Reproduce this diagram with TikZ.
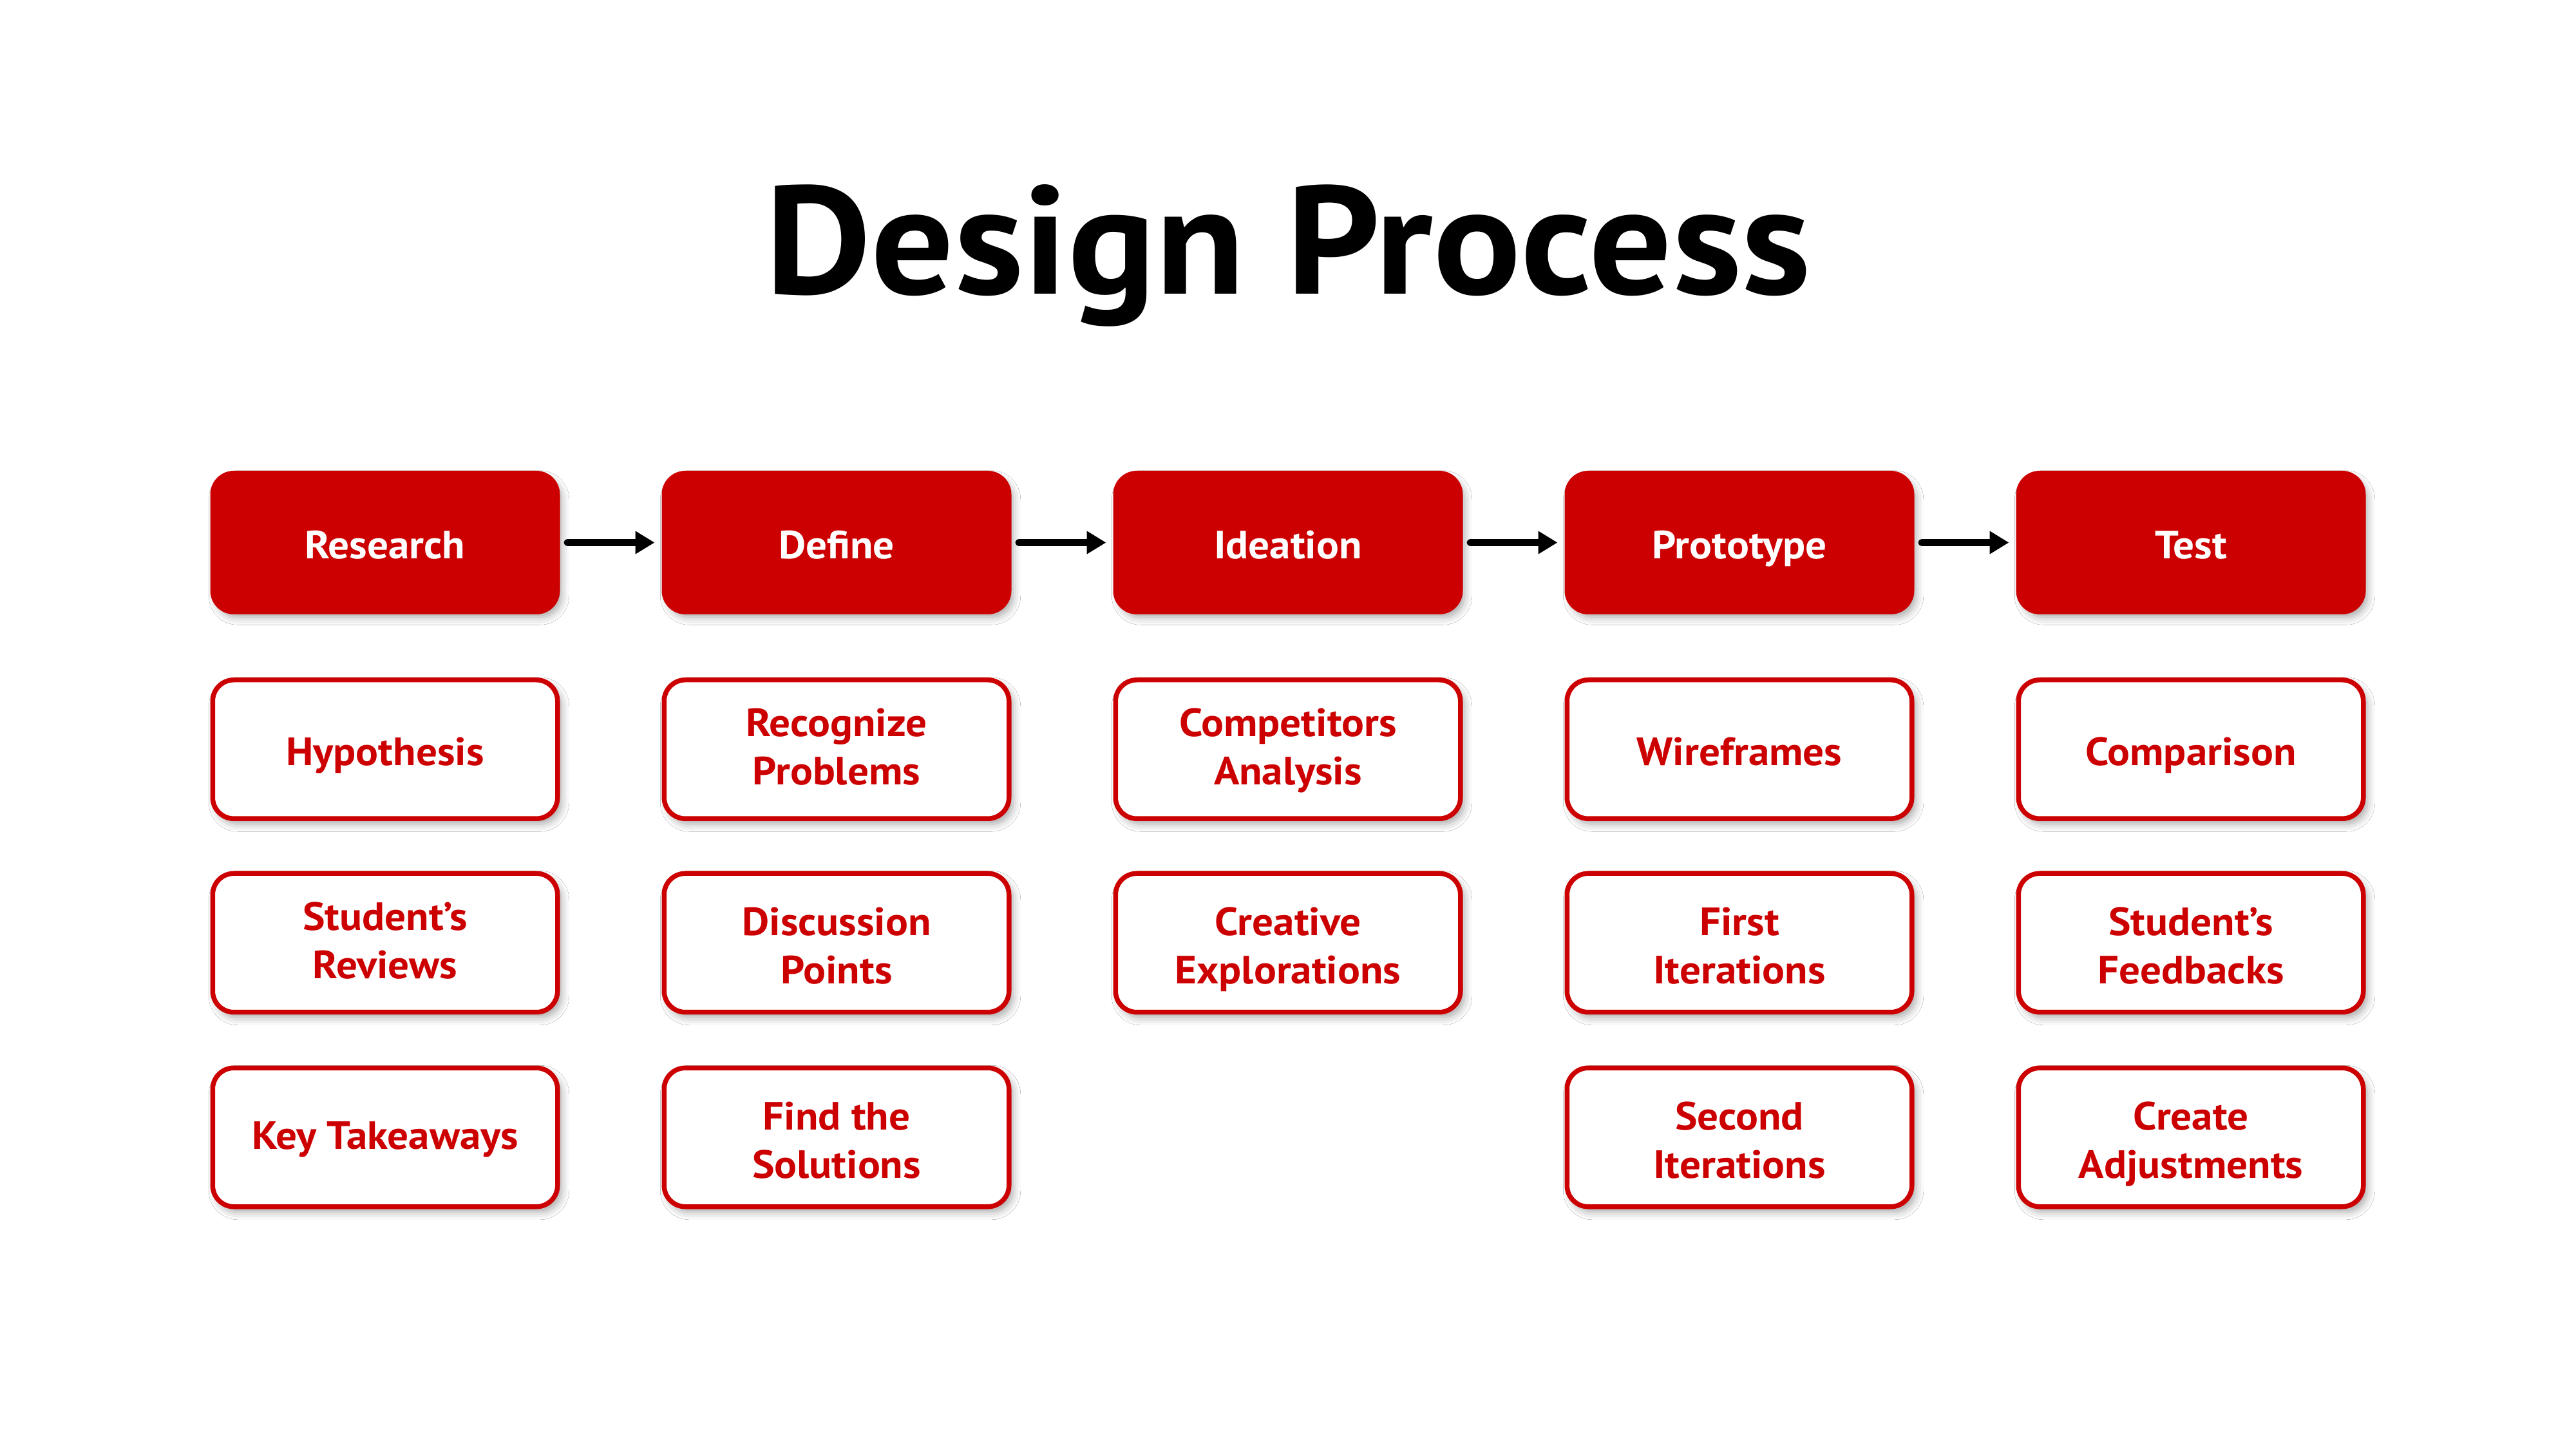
\documentclass[tikz,border=0pt]{standalone}
\usepackage{fontspec}
\setmainfont{PT Sans}[FakeStretch=1.065]
\usetikzlibrary{arrows.meta,shadows.blur}
\definecolor{dred}{RGB}{204,0,0}
\tikzset{
 boxbase/.style={rounded corners=0.33cm, minimum width=5.355cm, minimum height=2.155cm,
   line width=0.075cm, draw=dred, align=center,
   font=\bfseries\fontsize{17.4}{21.3}\selectfont,
   blur shadow={shadow xshift=0.06cm, shadow yshift=-0.08cm, shadow blur radius=0.12cm, shadow opacity=35}},
 headbox/.style={boxbase, fill=dred, text=white, text height=14.5pt, text depth=0pt},
 itembox/.style={boxbase, fill=white, text=dred, text height=14.5pt, text depth=0pt},
 onelinelow/.style={text height=10.4pt, text depth=0pt},
 twoline/.style={text height=35.9pt, text depth=0pt},
 twolineup/.style={text height=31.5pt, text depth=0pt},
 flow/.style={line width=0.11cm, line cap=round, -{Triangle[length=0.3cm,width=0.34cm]},
   shorten <=0.115cm, shorten >=0.11cm}
}
\begin{document}
\begin{tikzpicture}
\useasboundingbox[fill=white] (0,0) rectangle (40,-22.5);
\node[font=\bfseries\fontsize{68}{80}\selectfont, anchor=base] (title) at (20,-4.57) {Design Process};
% headers
\node[headbox] (research) at (5.98,-8.425) {Research};
\node[headbox] (define) at (12.99,-8.425) {Define};
\node[headbox] (ideation) at (20.00,-8.425) {Ideation};
\node[headbox] (prototype) at (27.01,-8.425) {Prototype};
\node[headbox] (test) at (34.02,-8.425) {Test};
% row 1
\node[itembox] (hyp) at (5.98,-11.635) {Hypothesis};
\node[itembox, twolineup] (recog) at (12.99,-11.635) {Recognize\\Problems};
\node[itembox, twolineup] (comp) at (20.00,-11.635) {Competitors\\Analysis};
\node[itembox] (wire) at (27.01,-11.635) {Wireframes};
\node[itembox] (compar) at (34.02,-11.635) {Comparison};
% row 2
\node[itembox, twolineup] (reviews) at (5.98,-14.64) {Student’s\\Reviews};
\node[itembox, twoline] (disc) at (12.99,-14.64) {Discussion\\Points};
\node[itembox, twoline] (creative) at (20.00,-14.64) {Creative\\Explorations};
\node[itembox, twoline] (first) at (27.01,-14.64) {First\\Iterations};
\node[itembox, twoline] (feedback) at (34.02,-14.64) {Student’s\\Feedbacks};
% row 3
\node[itembox, onelinelow] (key) at (5.98,-17.66) {Key Takeaways};
\node[itembox, twoline] (find) at (12.99,-17.66) {Find the\\Solutions};
\node[itembox, twoline] (second) at (27.01,-17.66) {Second\\Iterations};
\node[itembox, twoline] (adjust) at (34.02,-17.66) {Create\\Adjustments};
% arrows
\draw[flow] (research) -- (define);
\draw[flow] (define) -- (ideation);
\draw[flow] (ideation) -- (prototype);
\draw[flow] (prototype) -- (test);
\end{tikzpicture}
\end{document}
